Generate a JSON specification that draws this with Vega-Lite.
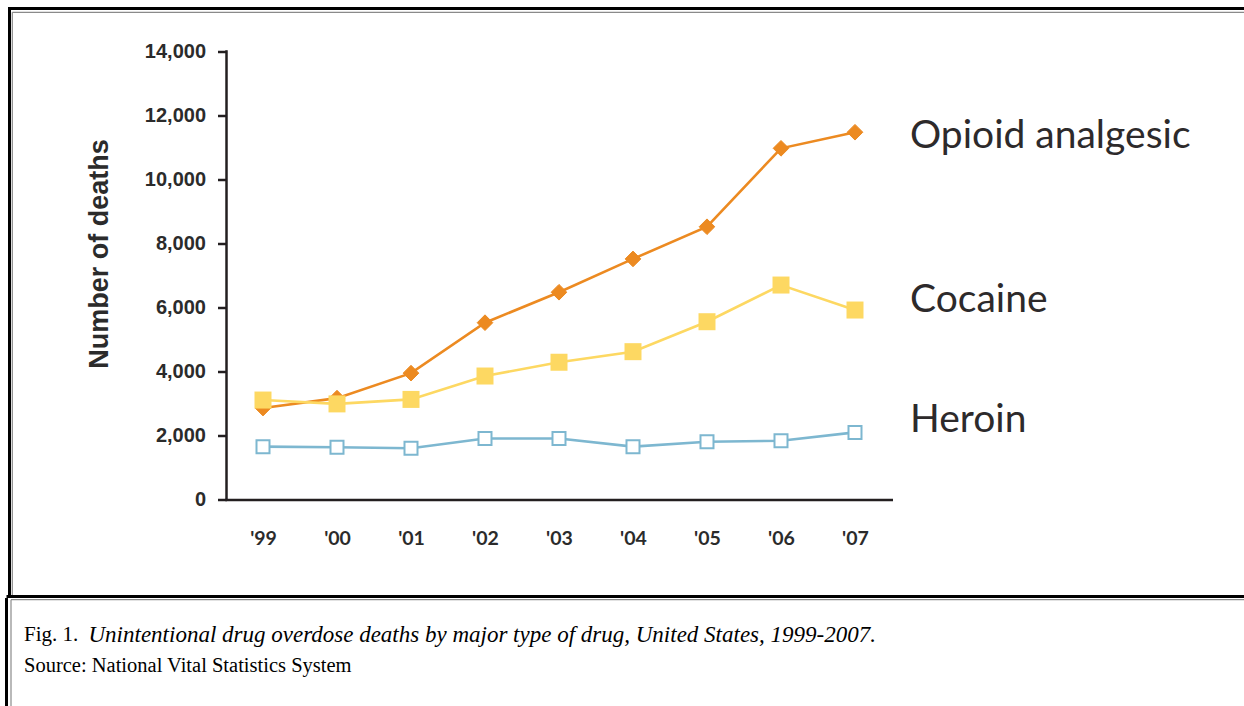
{
  "$schema": "https://vega.github.io/schema/vega-lite/v6.json",
  "autosize": {"type": "none"},
  "width": 1234.5,
  "height": 588,
  "padding": {"left": 9.5, "top": 8.5, "right": 0, "bottom": 109.5},
  "background": "white",
  "title": {
    "text": "Fig. 1.",
    "subtitle": "Source: National Vital Statistics System",
    "orient": "bottom",
    "anchor": "start",
    "frame": "group",
    "dx": 14.5,
    "offset": -66,
    "baseline": "alphabetic",
    "font": "Liberation Serif",
    "fontSize": 21,
    "fontWeight": "normal",
    "color": "#000000",
    "subtitleFont": "Liberation Serif",
    "subtitleFontSize": 20.5,
    "subtitleColor": "#000000",
    "subtitlePadding": 10
  },
  "config": {"view": {"stroke": null}},
  "data": {
    "values": [
      {"year": 1999, "series": "Opioid analgesic", "deaths": 2870},
      {"year": 2000, "series": "Opioid analgesic", "deaths": 3180},
      {"year": 2001, "series": "Opioid analgesic", "deaths": 3960},
      {"year": 2002, "series": "Opioid analgesic", "deaths": 5535},
      {"year": 2003, "series": "Opioid analgesic", "deaths": 6485},
      {"year": 2004, "series": "Opioid analgesic", "deaths": 7525},
      {"year": 2005, "series": "Opioid analgesic", "deaths": 8530},
      {"year": 2006, "series": "Opioid analgesic", "deaths": 10978},
      {"year": 2007, "series": "Opioid analgesic", "deaths": 11480},
      {"year": 1999, "series": "Cocaine", "deaths": 3120},
      {"year": 2000, "series": "Cocaine", "deaths": 3000},
      {"year": 2001, "series": "Cocaine", "deaths": 3140},
      {"year": 2002, "series": "Cocaine", "deaths": 3870},
      {"year": 2003, "series": "Cocaine", "deaths": 4300},
      {"year": 2004, "series": "Cocaine", "deaths": 4630},
      {"year": 2005, "series": "Cocaine", "deaths": 5565},
      {"year": 2006, "series": "Cocaine", "deaths": 6710},
      {"year": 2007, "series": "Cocaine", "deaths": 5930},
      {"year": 1999, "series": "Heroin", "deaths": 1665},
      {"year": 2000, "series": "Heroin", "deaths": 1645},
      {"year": 2001, "series": "Heroin", "deaths": 1615},
      {"year": 2002, "series": "Heroin", "deaths": 1920},
      {"year": 2003, "series": "Heroin", "deaths": 1920},
      {"year": 2004, "series": "Heroin", "deaths": 1665},
      {"year": 2005, "series": "Heroin", "deaths": 1820},
      {"year": 2006, "series": "Heroin", "deaths": 1850},
      {"year": 2007, "series": "Heroin", "deaths": 2110}
    ]
  },
  "layer": [
    {
      "encoding": {
        "x": {
          "field": "year",
          "type": "quantitative",
          "scale": {"domain": [1995.5743, 2012.2568], "nice": false, "zero": false},
          "axis": {
            "orient": "bottom",
            "offset": -96.5,
            "values": [1999, 2000, 2001, 2002, 2003, 2004, 2005, 2006, 2007],
            "format": "d",
            "labelExpr": "\"'\" + slice(datum.label, 2)",
            "domain": false,
            "ticks": false,
            "tickSize": 0,
            "grid": false,
            "labelFlush": false,
            "labelOverlap": false,
            "labelPadding": 29,
            "labelFont": "Lato",
            "labelFontWeight": "bold",
            "labelFontSize": 19.5,
            "labelColor": "#2b2b2b",
            "title": "Unintentional drug overdose deaths by major type of  drug, United States, 1999-2007.",
            "titleFont": "Liberation Serif",
            "titleFontStyle": "italic",
            "titleFontWeight": "normal",
            "titleFontSize": 23,
            "titleColor": "#000000",
            "titleX": 78.5,
            "titleY": 141,
            "titleAlign": "left",
            "titleAnchor": "start",
            "titleBaseline": "alphabetic",
            "titleAngle": 0
          }
        },
        "y": {
          "field": "deaths",
          "type": "quantitative",
          "scale": {"domain": [-3012.3, 15342.3], "nice": false, "zero": false},
          "axis": {
            "orient": "left",
            "offset": -217,
            "values": [0, 2000, 4000, 6000, 8000, 10000, 12000, 14000],
            "format": ",d",
            "domain": false,
            "ticks": true,
            "tickSize": 9,
            "tickWidth": 2.5,
            "tickColor": "#231f20",
            "grid": false,
            "labelFlush": false,
            "labelOverlap": false,
            "labelPadding": 12,
            "labelFont": "Liberation Sans",
            "labelFontWeight": "bold",
            "labelFontSize": 20,
            "labelColor": "#2b2b2b",
            "title": "Number of deaths",
            "titleFont": "Liberation Sans",
            "titleFontWeight": "bold",
            "titleFontSize": 27,
            "titleColor": "#2b2b2b",
            "titlePadding": 31,
            "titleY": 245
          }
        }
      },
      "layer": [
        {
          "mark": {"type": "line", "strokeWidth": 2.6},
          "encoding": {
            "color": {
              "field": "series",
              "type": "nominal",
              "scale": {"domain": ["Opioid analgesic", "Cocaine", "Heroin"], "range": ["#EC8A21", "#FDD862", "#7DB7D0"]},
              "legend": null
            }
          }
        },
        {
          "transform": [{"filter": "datum.series == 'Opioid analgesic'"}],
          "mark": {"type": "point", "shape": "diamond", "filled": true, "size": 245, "color": "#EC8A21", "stroke": "#EC8A21", "strokeWidth": 1, "opacity": 1}
        },
        {
          "transform": [{"filter": "datum.series == 'Cocaine'"}],
          "mark": {"type": "point", "shape": "square", "filled": true, "size": 289, "color": "#FDD862", "opacity": 1}
        },
        {
          "transform": [{"filter": "datum.series == 'Heroin'"}],
          "mark": {"type": "point", "shape": "square", "filled": true, "size": 169, "fill": "#ffffff", "stroke": "#7DB7D0", "strokeWidth": 2, "opacity": 1}
        },
        {
          "transform": [{"filter": "datum.year == 2007 && datum.series == 'Opioid analgesic'"}],
          "mark": {"type": "text", "align": "left", "baseline": "middle", "dx": 55, "dy": 4, "font": "Lato", "fontSize": 39, "color": "#2d2a2b"},
          "encoding": {"text": {"field": "series"}}
        },
        {
          "transform": [{"filter": "datum.year == 2007 && datum.series == 'Cocaine'"}],
          "mark": {"type": "text", "align": "left", "baseline": "middle", "dx": 55, "dy": -10, "font": "Lato", "fontSize": 39, "color": "#2d2a2b"},
          "encoding": {"text": {"field": "series"}}
        },
        {
          "transform": [{"filter": "datum.year == 2007 && datum.series == 'Heroin'"}],
          "mark": {"type": "text", "align": "left", "baseline": "middle", "dx": 55, "dy": -12, "font": "Lato", "fontSize": 39, "color": "#2d2a2b"},
          "encoding": {"text": {"field": "series"}}
        }
      ]
    },
    {
      "data": {"values": [{"k": 1}]},
      "mark": {"type": "rule", "color": "#231f20", "strokeWidth": 2.5},
      "encoding": {"x": {"datum": 1998.5068, "type": "quantitative"}, "y": {"datum": 0, "type": "quantitative"}, "y2": {"datum": 14040}}
    },
    {
      "data": {"values": [{"k": 1}]},
      "mark": {"type": "rule", "color": "#231f20", "strokeWidth": 2.5},
      "encoding": {"x": {"datum": 1998.4899, "type": "quantitative"}, "x2": {"datum": 2007.5135}, "y": {"datum": 0, "type": "quantitative"}}
    },
    {
      "data": {"values": [{"k": 1}]},
      "mark": {"type": "rule", "color": "#000000", "strokeWidth": 3, "clip": false},
      "encoding": {"x": {"datum": 1995.5540, "type": "quantitative"}, "x2": {"datum": 2012.2568}, "y": {"datum": 15342.3, "type": "quantitative"}}
    },
    {
      "data": {"values": [{"k": 1}]},
      "mark": {"type": "rule", "color": "#000000", "strokeWidth": 3, "clip": false},
      "encoding": {"x": {"datum": 1995.5743, "type": "quantitative"}, "y": {"datum": 15389, "type": "quantitative"}, "y2": {"datum": -3012.3}}
    },
    {
      "data": {"values": [{"k": 1}]},
      "mark": {"type": "rule", "color": "#000000", "strokeWidth": 3, "clip": false},
      "encoding": {"x": {"datum": 1995.5338, "type": "quantitative"}, "x2": {"datum": 2012.2568}, "y": {"datum": -3012.3, "type": "quantitative"}}
    },
    {
      "data": {"values": [{"k": 1}]},
      "mark": {"type": "rule", "color": "#000000", "strokeWidth": 3, "clip": false},
      "encoding": {"x": {"datum": 1995.5338, "type": "quantitative"}, "y": {"datum": -3060, "type": "quantitative"}, "y2": {"datum": -6430}}
    },
    {
      "data": {"values": [{"k": 1}]},
      "mark": {"type": "rule", "color": "#8a8a8a", "strokeWidth": 1.2, "clip": false},
      "encoding": {"x": {"datum": 1995.6122, "type": "quantitative"}, "x2": {"datum": 2012.2568}, "y": {"datum": 15223.6, "type": "quantitative"}}
    },
    {
      "data": {"values": [{"k": 1}]},
      "mark": {"type": "rule", "color": "#8a8a8a", "strokeWidth": 1.2, "clip": false},
      "encoding": {"x": {"datum": 1995.6122, "type": "quantitative"}, "y": {"datum": 15223.6, "type": "quantitative"}, "y2": {"datum": -2965}}
    },
    {
      "data": {"values": [{"k": 1}]},
      "mark": {"type": "rule", "color": "#8a8a8a", "strokeWidth": 1.2, "clip": false},
      "encoding": {"x": {"datum": 1995.5946, "type": "quantitative"}, "x2": {"datum": 2012.2568}, "y": {"datum": -3112.1, "type": "quantitative"}}
    },
    {
      "data": {"values": [{"k": 1}]},
      "mark": {"type": "rule", "color": "#8a8a8a", "strokeWidth": 1.2, "clip": false},
      "encoding": {"x": {"datum": 1995.5946, "type": "quantitative"}, "y": {"datum": -3112.1, "type": "quantitative"}, "y2": {"datum": -6430}}
    }
  ]
}
